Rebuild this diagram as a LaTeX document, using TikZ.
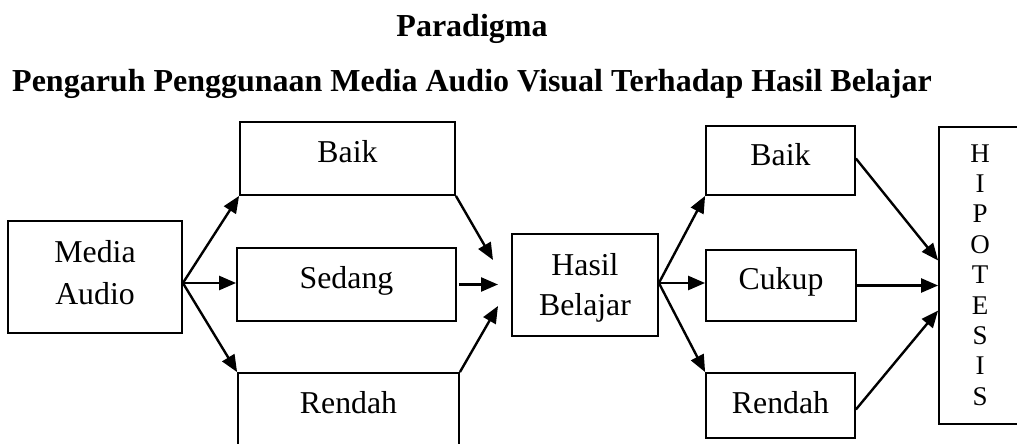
\documentclass[tikz,border=0pt]{standalone}
\usepackage{fontspec}
\setmainfont{Liberation Serif}
\usetikzlibrary{arrows.meta}
\begin{document}
\begin{tikzpicture}[x=1pt,y=-1pt,
  box/.style={draw, line width=1.8pt, inner sep=0pt},
  lbl/.style={anchor=base, inner sep=0pt, font=\fontsize{31.8}{42}\selectfont},
  hl/.style={anchor=base, inner sep=0pt, font=\fontsize{27}{30}\selectfont},
  ttl/.style={anchor=base, inner sep=0pt, font=\fontsize{32}{38}\selectfont\bfseries},
  arr/.style={line width=2.4pt, -{Triangle[length=17pt,width=14pt]}}]
\clip (0,0) rectangle (1017,444);
\fill[white] (0,0) rectangle (1017,444);
% titles
\node[ttl] (t1) at (472,37) {Paradigma};
\node[ttl] (t2) at (472,92) {Pengaruh Penggunaan Media Audio Visual Terhadap Hasil Belajar};
% boxes
\node[box, minimum width=174pt, minimum height=112pt] (ma) at (95,277) {};
\node[box, minimum width=215pt, minimum height=73pt] (bl) at (347.5,158.5) {};
\node[box, minimum width=219pt, minimum height=73pt] (sl) at (346.5,284.5) {};
\node[box, minimum width=221pt, minimum height=107pt] (rl) at (348.5,426.5) {};
\node[box, minimum width=146pt, minimum height=102pt] (hb) at (585,285) {};
\node[box, minimum width=149pt, minimum height=69pt] (br) at (780.5,160.5) {};
\node[box, minimum width=150pt, minimum height=71pt] (cr) at (781,285.5) {};
\node[box, minimum width=149pt, minimum height=65pt] (rr) at (780.5,405.5) {};
\node[box, minimum width=82pt, minimum height=297pt] (hp) at (980,275.5) {};
% texts
\node[lbl] (tma1) at (95,262) {Media};
\node[lbl] (tma2) at (95,304) {Audio};
\node[lbl] (tbl) at (347.5,162) {Baik};
\node[lbl] (tsl) at (346.5,288) {Sedang};
\node[lbl] (trl) at (348.5,413) {Rendah};
\node[lbl] (thb1) at (585,275) {Hasil};
\node[lbl] (thb2) at (585,315) {Belajar};
\node[lbl] (tbr) at (780.5,165) {Baik};
\node[lbl] (tcr) at (781,289) {Cukup};
\node[lbl] (trr) at (780.5,413) {Rendah};
\foreach \ch [count=\i] in {H,I,P,O,T,E,S,I,S}
  \node[hl] (hl\i) at (980,{131.6+30.4*\i}) {\ch};
% connectors
\coordinate (mo) at ([yshift=-6pt]ma.east);
\draw[arr] (mo) -- (bl.south west);
\draw[arr] (mo) -- (mo -| sl.west);
\draw[arr] (mo) -- (rl.north west);
\coordinate (h1) at (493,260);
\coordinate (h2) at (498,284.5);
\coordinate (h3) at (498,306);
\draw[arr] (bl.south east) -- (h1);
\draw[arr] ([xshift=2pt]sl.east) -- (h2);
\draw[arr] (rl.north east) -- (h3);
\coordinate (ho) at ([yshift=2pt]hb.east);
\draw[arr] (ho) -- (br.south west);
\draw[arr] (ho) -- (ho -| cr.west);
\draw[arr] (ho) -- (rr.north west);
\coordinate (hc) at (cr.east -| hp.west);
\draw[arr] ([yshift=2pt]br.east) -- ([yshift=25pt]hc);
\draw[arr] (cr.east) -- (hc);
\draw[arr] ([yshift=-4pt]rr.east) -- ([yshift=-25pt]hc);
\end{tikzpicture}
\end{document}
